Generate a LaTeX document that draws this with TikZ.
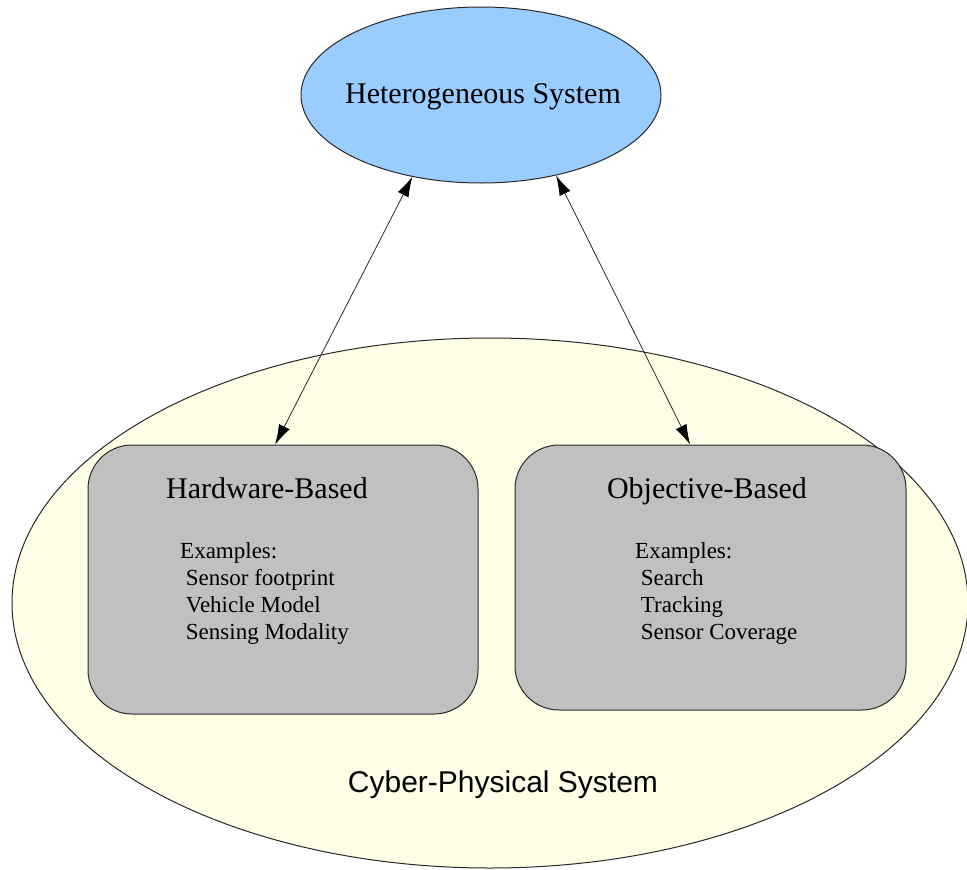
\documentclass[tikz,border=0pt]{standalone}
\usepackage{fontspec}
\setmainfont{Liberation Serif}
\setsansfont{Liberation Sans}
\usetikzlibrary{arrows.meta,shapes.geometric,calc}

\definecolor{hsblue}{RGB}{153,204,255}
\definecolor{cpsyellow}{RGB}{255,255,232}
\definecolor{boxgray}{RGB}{192,192,192}
\definecolor{edgegray}{RGB}{40,40,40}

\begin{document}
\begin{tikzpicture}[x=1pt,y=-1pt,
  outline/.style={draw=edgegray,line width=1pt},
  bigellipse/.style={ellipse,outline,inner sep=0pt},
  catbox/.style={rectangle,rounded corners=44pt,outline,fill=boxgray,inner sep=0pt},
  title/.style={font=\fontsize{30}{36}\selectfont,inner sep=0pt,anchor=base},
  examples/.style={font=\fontsize{23}{27}\selectfont,align=left,inner sep=0pt,anchor=north west},
  link/.style={draw=edgegray,line width=0.8pt,
    {Latex[length=20pt,width=12pt,black]}-{Latex[length=20pt,width=12pt,black]}}
]
\useasboundingbox (0,0) rectangle (967,870);

% outer system ellipse and its label
\node[bigellipse,fill=cpsyellow,minimum width=956pt,minimum height=530pt] (cps) at (490,603) {};
\node[title,font=\sffamily\fontsize{30}{36}\selectfont] (cpslabel) at (503,792) {Cyber-Physical System};

% heterogeneous system at the top
\node[bigellipse,fill=hsblue,minimum width=360pt,minimum height=176pt] (hs) at (481,95) {};
\node[title] (hslabel) at (483,103) {Heterogeneous System};

% the two categories
\node[catbox,minimum width=390pt,minimum height=269pt] (hw) at (283,579.5) {};
\node[catbox,minimum width=391pt,minimum height=265pt] (ob) at (710.5,577.5) {};

\node[title] (hwtitle) at (267,498) {Hardware-Based};
\node[examples] (hwlist) at (180,542) {Examples:\\\ Sensor footprint\\\ Vehicle Model\\\ Sensing Modality};

\node[title] (obtitle) at (707,498) {Objective-Based};
\node[examples] (oblist) at (635,542) {Examples:\\\ Search\\\ Tracking\\\ Sensor Coverage};

% connectors between the top ellipse and the boxes
\coordinate (hwtop) at ($(hw.north west)!0.48!(hw.north east)$);
\coordinate (obtop) at ($(ob.north west)!0.448!(ob.north east)$);
\draw[link] (hs.230.3) -- (hwtop);
\draw[link] (hs.313.6) -- (obtop);
\end{tikzpicture}
\end{document}
